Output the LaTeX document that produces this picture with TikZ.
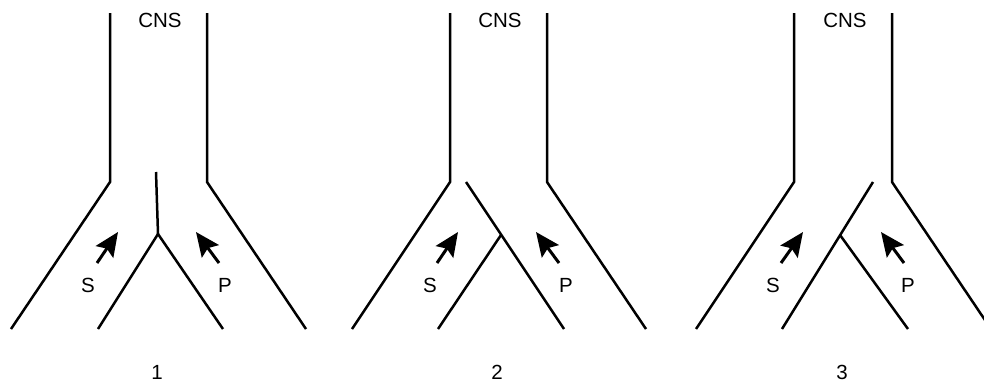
\documentclass[tikz,border=0pt]{standalone}
\usepackage{fontspec}
\setmainfont{Liberation Sans}
\usetikzlibrary{arrows.meta}
\begin{document}
\begin{tikzpicture}[x=1pt,y=-1pt,
  nerve/.style={line width=2.5pt,line join=miter},
  signal/.style={line width=3pt,-{Stealth[length=24pt,width=21pt,inset=4pt]}},
  lbl/.style={font=\fontsize{20.5}{22}\selectfont,inner sep=0pt}]
\clip (0,0) rectangle (984,383);
\fill[white] (0,0) rectangle (984,383);
% ---------- panel 1 ----------
\coordinate (a1t) at (110,13); \coordinate (a1k) at (110,182); \coordinate (a1b) at (11,329);
\coordinate (b1t) at (207,13); \coordinate (b1k) at (207,182); \coordinate (b1b) at (306,329);
\coordinate (m1t) at (156,172); \coordinate (m1j) at (158,234);
\coordinate (m1l) at (98,329); \coordinate (m1r) at (223,329);
\coordinate (s1a) at (97,263); \coordinate (s1b) at (118,232);
\coordinate (p1a) at (219,263); \coordinate (p1b) at (196,232);
\draw[nerve] (a1t) -- (a1k) -- (a1b);
\draw[nerve] (b1t) -- (b1k) -- (b1b);
\draw[nerve] (m1t) -- (m1j);
\draw[nerve] (m1l) -- (m1j) -- (m1r);
\draw[signal] (s1a) -- (s1b);
\draw[signal] (p1a) -- (p1b);
\node[lbl] (cns1) at (160,20) {CNS};
\node[lbl] (s1) at (88,285) {S};
\node[lbl] (p1) at (225,285) {P};
\node[lbl] (n1) at (157,372) {1};
% ---------- panel 2 ----------
\coordinate (a2t) at (450,13); \coordinate (a2k) at (450,182); \coordinate (a2b) at (352,329);
\coordinate (b2t) at (547,13); \coordinate (b2k) at (547,182); \coordinate (b2b) at (646,329);
\coordinate (l2t) at (466,182); \coordinate (l2b) at (564,329);
\coordinate (k2j) at (501,235); \coordinate (k2b) at (438,329);
\coordinate (s2a) at (437,263); \coordinate (s2b) at (458,232);
\coordinate (p2a) at (559,263); \coordinate (p2b) at (536,232);
\draw[nerve] (a2t) -- (a2k) -- (a2b);
\draw[nerve] (b2t) -- (b2k) -- (b2b);
\draw[nerve] (l2t) -- (l2b);
\draw[nerve] (k2j) -- (k2b);
\draw[signal] (s2a) -- (s2b);
\draw[signal] (p2a) -- (p2b);
\node[lbl] (cns2) at (500,20) {CNS};
\node[lbl] (s2) at (430,285) {S};
\node[lbl] (p2) at (566,285) {P};
\node[lbl] (n2) at (497,372) {2};
% ---------- panel 3 ----------
\coordinate (a3t) at (794,13); \coordinate (a3k) at (794,182); \coordinate (a3b) at (696,329);
\coordinate (b3t) at (892,13); \coordinate (b3k) at (892,182); \coordinate (b3b) at (991,329);
\coordinate (l3t) at (873,182); \coordinate (l3b) at (782,329);
\coordinate (k3j) at (840,235); \coordinate (k3b) at (908,329);
\coordinate (s3a) at (781,263); \coordinate (s3b) at (803,232);
\coordinate (p3a) at (904,263); \coordinate (p3b) at (881,232);
\draw[nerve] (a3t) -- (a3k) -- (a3b);
\draw[nerve] (b3t) -- (b3k) -- (b3b);
\draw[nerve] (l3t) -- (l3b);
\draw[nerve] (k3j) -- (k3b);
\draw[signal] (s3a) -- (s3b);
\draw[signal] (p3a) -- (p3b);
\node[lbl] (cns3) at (845,20) {CNS};
\node[lbl] (s3) at (773,285) {S};
\node[lbl] (p3) at (908,285) {P};
\node[lbl] (n3) at (842,372) {3};
\end{tikzpicture}
\end{document}
